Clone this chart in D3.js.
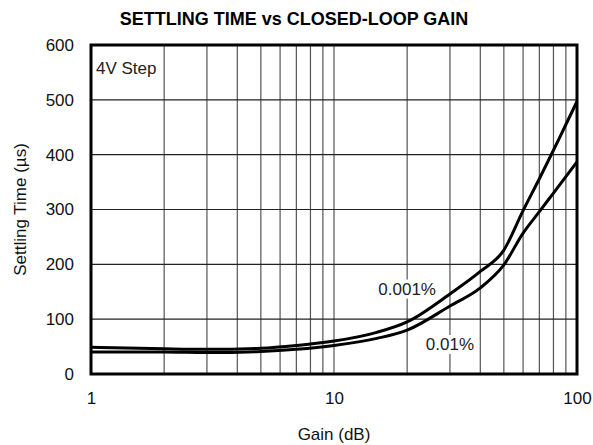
<!DOCTYPE html>
<html><head><meta charset="utf-8">
<script src="https://cdn.jsdelivr.net/npm/d3@7"></script>
<style>body{margin:0;background:#fff}svg{display:block;font-family:"Liberation Sans",Arial,Helvetica,sans-serif}</style>
</head><body><svg id="c" width="593" height="445"></svg>
<script>
const gains = [1, 2, 3, 5, 7, 10, 15, 20, 30, 40, 50, 60, 70, 80, 90, 100];
const settle0001 = [49, 46, 45, 47, 52, 60, 76, 95, 146, 187, 226, 298, 356, 408, 455, 497];
const settle001 = [40, 40, 39, 41, 45, 52, 65, 80, 124, 157, 199, 257, 296, 330, 360, 387];
const xTickLabels = [1, 10, 100];
const yTickValues = [0, 100, 200, 300, 400, 500, 600];
const xGridValues = [2,3,4,5,6,7,8,9,10,20,30,40,50,60,70,80,90];
const seriesLabels = [{text:"0.001%", g:20, v:153}, {text:"0.01%", g:30, v:52}];

const svg = d3.select("#c");
const L = 91, R = 577, T = 45, B = 374;
const x = d3.scaleLog().domain([1, 100]).range([L, R]);
const y = d3.scaleLinear().domain([0, 600]).range([B, T]);

svg.append("text").attr("x", 294).attr("y", 25).attr("text-anchor", "middle")
  .attr("font-size", 18).attr("font-weight", "bold").text("SETTLING TIME vs CLOSED-LOOP GAIN");

const grid = svg.append("g");
grid.selectAll("line.v").data(xGridValues).enter().append("line")
  .attr("x1", d => x(d)).attr("x2", d => x(d)).attr("y1", T).attr("y2", B)
  .attr("stroke", "#555").attr("stroke-width", 1.2);
grid.selectAll("line.h").data(yTickValues.slice(1, -1)).enter().append("line")
  .attr("x1", L).attr("x2", R).attr("y1", d => y(d)).attr("y2", d => y(d))
  .attr("stroke", "#222").attr("stroke-width", 1.2);

seriesLabels.forEach(s => {
  const t = svg.append("text").attr("x", x(s.g)).attr("y", y(s.v)).attr("text-anchor", "middle")
    .attr("dominant-baseline", "middle").attr("font-size", 17).attr("fill", "#222").text(s.text);
  const bb = t.node().getBBox();
  svg.insert("rect", () => t.node()).attr("x", bb.x - 2).attr("y", bb.y).attr("width", bb.width + 4)
    .attr("height", bb.height).attr("fill", "#fff");
});

const line = d3.line().x(d => x(d[0])).y(d => y(d[1])).curve(d3.curveMonotoneX);
[settle0001, settle001].forEach(arr => {
  svg.append("path").attr("d", line(gains.map((g, i) => [g, arr[i]])))
    .attr("fill", "none").attr("stroke", "#000").attr("stroke-width", 3);
});

svg.append("text").attr("x", 96).attr("y", 74).attr("font-size", 17).attr("fill", "#222").text("4V Step");

svg.append("rect").attr("x", L).attr("y", T).attr("width", R - L).attr("height", B - T)
  .attr("fill", "none").attr("stroke", "#000").attr("stroke-width", 3);

const yAxis = d3.axisLeft(y).tickValues(yTickValues).tickSize(0).tickPadding(17);
const gy = svg.append("g").attr("transform", `translate(${L},0)`).call(yAxis);
const xAxis = d3.axisBottom(x).tickValues(xTickLabels).tickFormat(d3.format("d")).tickSize(0).tickPadding(18);
const gx = svg.append("g").attr("transform", `translate(0,${B})`).call(xAxis);
[gx, gy].forEach(g => {
  g.select(".domain").remove();
  g.selectAll("text").attr("font-size", 17).attr("font-family", "Liberation Sans, Arial, sans-serif").attr("fill", "#111");
});

svg.append("text").attr("x", (L + R) / 2).attr("y", 440).attr("text-anchor", "middle")
  .attr("font-size", 17).attr("fill", "#111").text("Gain (dB)");
svg.append("text").attr("transform", `translate(26,${(T + B) / 2}) rotate(-90)`).attr("text-anchor", "middle")
  .attr("font-size", 17).attr("fill", "#111").text("Settling Time (µs)");
</script></body></html>
